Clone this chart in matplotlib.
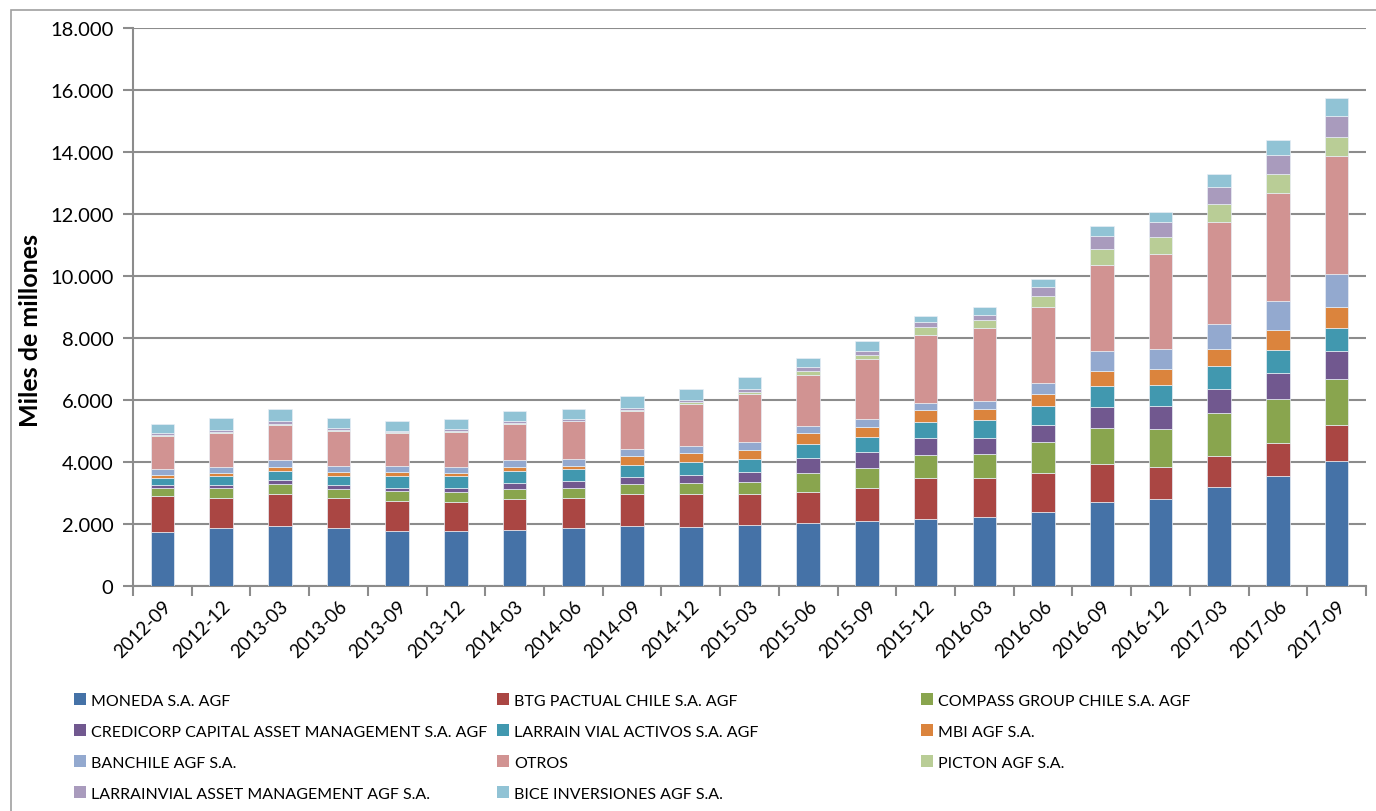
import numpy as np
import matplotlib
matplotlib.use("Agg")
import matplotlib.pyplot as plt
from matplotlib.patches import Patch, Rectangle
from matplotlib.ticker import FuncFormatter, MultipleLocator
from matplotlib.transforms import ScaledTranslation

plt.rcParams['font.family'] = ['Lato', 'DejaVu Sans']

periods = ['2012-09', '2012-12', '2013-03', '2013-06', '2013-09', '2013-12', '2014-03',
           '2014-06', '2014-09', '2014-12', '2015-03', '2015-06', '2015-09', '2015-12',
           '2016-03', '2016-06', '2016-09', '2016-12', '2017-03', '2017-06', '2017-09']

# miles de millones
moneda = [1730, 1860, 1945, 1860, 1785, 1785, 1805, 1860, 1925, 1895, 1965, 2030, 2105, 2160, 2215, 2380, 2725, 2800, 3180, 3535, 4020]
btg = [1160, 990, 1035, 980, 970, 935, 1000, 990, 1035, 1065, 990, 1010, 1055, 1325, 1260, 1260, 1205, 1045, 1025, 1075, 1175]
compass = [270, 300, 320, 300, 300, 300, 320, 325, 345, 355, 395, 620, 640, 740, 770, 1000, 1165, 1220, 1380, 1410, 1475]
credicorp = [105, 115, 110, 110, 120, 150, 205, 215, 225, 280, 335, 480, 530, 555, 535, 555, 690, 730, 785, 860, 895]
larrain_activos = [225, 270, 310, 310, 365, 365, 390, 375, 385, 410, 420, 455, 470, 510, 565, 610, 670, 700, 730, 735, 745]
mbi = [95, 95, 130, 130, 130, 120, 120, 115, 280, 270, 290, 345, 345, 380, 360, 390, 465, 505, 530, 635, 680]
banchile = [205, 215, 215, 185, 185, 195, 215, 225, 215, 235, 240, 230, 250, 230, 250, 360, 645, 635, 820, 950, 1080]
otros = [1035, 1105, 1140, 1120, 1085, 1130, 1185, 1205, 1225, 1355, 1560, 1650, 1935, 2205, 2360, 2455, 2800, 3080, 3285, 3490, 3805]
picton = [30, 20, 20, 30, 20, 20, 25, 25, 45, 65, 75, 110, 110, 260, 260, 360, 515, 550, 580, 605, 615]
larrainvial_am = [70, 75, 90, 65, 55, 65, 50, 60, 75, 75, 85, 120, 150, 150, 165, 270, 400, 465, 550, 605, 670]
bice = [300, 365, 385, 335, 320, 335, 325, 320, 365, 335, 385, 305, 305, 205, 250, 270, 345, 345, 430, 495, 570]

names = ['MONEDA S.A. AGF', 'BTG PACTUAL CHILE S.A. AGF', 'COMPASS GROUP CHILE S.A. AGF',
         'CREDICORP CAPITAL ASSET MANAGEMENT S.A. AGF', 'LARRAIN VIAL ACTIVOS S.A. AGF', 'MBI AGF S.A.',
         'BANCHILE AGF S.A.', 'OTROS', 'PICTON AGF S.A.',
         'LARRAINVIAL ASSET MANAGEMENT AGF S.A.', 'BICE INVERSIONES AGF S.A.']
series = [moneda, btg, compass, credicorp, larrain_activos, mbi, banchile, otros, picton, larrainvial_am, bice]
colors = ['#4572A7', '#AA4643', '#89A54E', '#71588F', '#4198AF', '#DB843D',
          '#93A9CF', '#D19392', '#B9CD96', '#A99BBD', '#91C3D5']

grey = '#8c8c8c'

fig = plt.figure(figsize=(13.76, 8.12), dpi=100)
fig.patches.append(Rectangle((11 / 1376, -0.1), 1.2, 1.1 - 11 / 812, transform=fig.transFigure,
                             fill=False, edgecolor='#a0a0a0', linewidth=1.2))
ax = fig.add_axes([133 / 1376, 1 - 587 / 812, 1233 / 1376, 558 / 812])

x = np.arange(len(periods))
bottom = np.zeros(len(periods))
for name, vals, c in zip(names, series, colors):
    ax.bar(x, vals, width=0.4, bottom=bottom, color=c, edgecolor='#e8eef5', linewidth=0.5,
           label=name, zorder=3)
    bottom += np.array(vals)

ax.set_xlim(-0.5, len(periods) - 0.5)
ax.set_ylim(0, 18000)
ax.yaxis.set_major_locator(MultipleLocator(2000))
ax.yaxis.set_major_formatter(FuncFormatter(lambda v, p: f'{int(v):,}'.replace(',', '.')))
ax.grid(axis='y', color=grey, linewidth=1.5, zorder=0)

ax.set_xticks(x)
ax.set_xticklabels(periods, rotation=45, ha='right', rotation_mode='anchor', fontsize=13.5)
for lbl in ax.get_xticklabels():
    lbl.set_transform(lbl.get_transform() + ScaledTranslation(3 / 72, 0, fig.dpi_scale_trans))
ax.set_xticks(np.arange(-0.5, len(periods)), minor=True)
ax.tick_params(axis='x', which='major', length=0, pad=8)
ax.tick_params(axis='x', which='minor', length=7, width=1.5, color=grey, direction='out')
ax.tick_params(axis='y', length=7, width=1.5, color=grey, labelsize=14.5, pad=7)

for s in ['top', 'right']:
    ax.spines[s].set_visible(False)
for s in ['left', 'bottom']:
    ax.spines[s].set_color(grey)
    ax.spines[s].set_linewidth(1.5)

ax.set_ylabel('Miles de millones', fontsize=18, fontweight='bold')
ax.yaxis.set_label_coords(-0.0738, 0.46)

handles = [Patch(facecolor=c, edgecolor='none') for c in colors]
col_x = [68 / 1376, 491 / 1376, 915 / 1376]
for k in range(3):
    idx = list(range(k, len(names), 3))
    fig.legend([handles[i] for i in idx], [names[i] for i in idx],
               loc='upper left', bbox_to_anchor=(col_x[k], 1 - 688 / 812),
               frameon=False, fontsize=11.5, handlelength=0.75, handleheight=0.75,
               handletextpad=0.3, labelspacing=1.04, borderaxespad=0)

fig.savefig('out.png', dpi=100)
